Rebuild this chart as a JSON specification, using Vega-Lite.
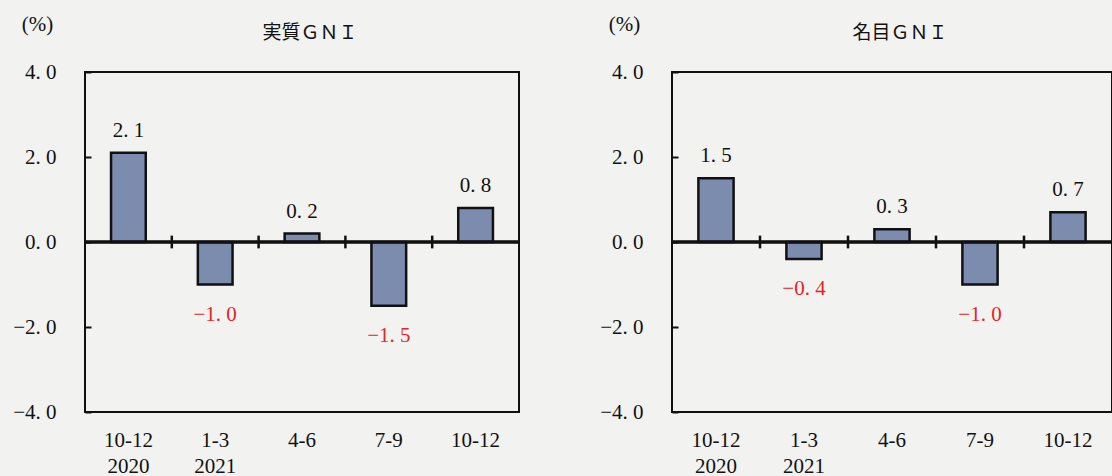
{
  "$schema": "https://vega.github.io/schema/vega-lite/v6.json",
  "background": "#f2f2f0",
  "padding": {"left": 11, "top": 12, "right": 0, "bottom": 0},
  "bounds": "flush",
  "spacing": 153,
  "config": {
    "view": {"stroke": "#111", "strokeWidth": 2},
    "font": "Liberation Serif",
    "title": {"font": "Noto Sans CJK JP", "fontSize": 19, "fontWeight": "normal", "color": "#111", "offset": -30, "dx": 8}
  },
  "datasets": {
    "real": [
      {"q": "2020Q4", "v": 2.1},
      {"q": "2021Q1", "v": -1.0},
      {"q": "2021Q2", "v": 0.2},
      {"q": "2021Q3", "v": -1.5},
      {"q": "2021Q4", "v": 0.8}
    ],
    "nominal": [
      {"q": "2020Q4", "v": 1.5},
      {"q": "2021Q1", "v": -0.4},
      {"q": "2021Q2", "v": 0.3},
      {"q": "2021Q3", "v": -1.0},
      {"q": "2021Q4", "v": 0.7}
    ]
  },
  "hconcat": [
    {
      "width": 434,
      "height": 340,
      "title": "実質ＧＮＩ",
      "data": {"name": "real"},
      "encoding": {
        "x": {
          "field": "q", "type": "nominal", "sort": null,
          "scale": {"paddingInner": 0, "paddingOuter": 0},
          "axis": {
            "title": null, "domain": false, "ticks": false, "labelAngle": 0,
            "labelFont": "Liberation Serif", "labelFontSize": 21, "labelColor": "#111",
            "labelPadding": 17, "labelLineHeight": 26, "labelBaseline": "top",
            "labelExpr": "datum.value == '2020Q4' ? ['10-12', '2020'] : datum.value == '2021Q1' ? ['1-3', '2021'] : datum.value == '2021Q2' ? '4-6' : datum.value == '2021Q3' ? '7-9' : '10-12'"
          }
        }
      },
      "layer": [
        {
          "mark": {"type": "bar", "fill": "#7b8cae", "stroke": "#111", "strokeWidth": 2.5, "width": {"band": 0.4}},
          "encoding": {
            "y": {
              "field": "v", "type": "quantitative",
              "scale": {"domain": [-4, 4], "nice": false, "zero": false},
              "axis": {
                "values": [-4, -2, 0, 2, 4], "grid": false, "domain": false,
                "tickSize": -6, "tickWidth": 2, "tickColor": "#111",
                "labelFont": "Liberation Serif", "labelFontSize": 21, "labelColor": "#111", "labelPadding": 35,
                "labelExpr": "replace(format(datum.value, '.1f'), '.', '. ')",
                "title": "(%)", "titleAngle": 0, "titleX": -48, "titleY": -48,
                "titleAlign": "center", "titleBaseline": "middle",
                "titleFont": "Liberation Serif", "titleFontSize": 21, "titleFontWeight": "normal", "titleColor": "#111"
              }
            }
          }
        },
        {
          "mark": {"type": "rule", "stroke": "#111", "strokeWidth": 2.5},
          "encoding": {"y": {"datum": 0}, "x": null}
        },
        {
          "transform": [{"filter": "datum.q != '2020Q4'"}],
          "mark": {"type": "rule", "stroke": "#111", "strokeWidth": 2.5},
          "encoding": {
            "x": {"field": "q", "type": "nominal", "sort": null, "bandPosition": 0},
            "y": {"datum": -0.15},
            "y2": {"datum": 0.15}
          }
        },
        {
          "transform": [{"filter": "datum.v >= 0"}],
          "mark": {"type": "text", "baseline": "bottom", "dy": -12, "fontSize": 21, "color": "#111",
                   "text": {"expr": "replace(format(datum.v, '.1f'), '.', '. ')"}},
          "encoding": {"y": {"field": "v", "type": "quantitative"}}
        },
        {
          "transform": [{"filter": "datum.v < 0"}],
          "mark": {"type": "text", "baseline": "top", "dy": 19, "fontSize": 21, "color": "#e8231e",
                   "text": {"expr": "replace(format(datum.v, '.1f'), '.', '. ')"}},
          "encoding": {"y": {"field": "v", "type": "quantitative"}}
        }
      ]
    },
    {
      "width": 440,
      "height": 340,
      "title": "名目ＧＮＩ",
      "data": {"name": "nominal"},
      "encoding": {
        "x": {
          "field": "q", "type": "nominal", "sort": null,
          "scale": {"paddingInner": 0, "paddingOuter": 0},
          "axis": {
            "title": null, "domain": false, "ticks": false, "labelAngle": 0,
            "labelFont": "Liberation Serif", "labelFontSize": 21, "labelColor": "#111",
            "labelPadding": 17, "labelLineHeight": 26, "labelBaseline": "top",
            "labelExpr": "datum.value == '2020Q4' ? ['10-12', '2020'] : datum.value == '2021Q1' ? ['1-3', '2021'] : datum.value == '2021Q2' ? '4-6' : datum.value == '2021Q3' ? '7-9' : '10-12'"
          }
        }
      },
      "layer": [
        {
          "mark": {"type": "bar", "fill": "#7b8cae", "stroke": "#111", "strokeWidth": 2.5, "width": {"band": 0.4}},
          "encoding": {
            "y": {
              "field": "v", "type": "quantitative",
              "scale": {"domain": [-4, 4], "nice": false, "zero": false},
              "axis": {
                "values": [-4, -2, 0, 2, 4], "grid": false, "domain": false,
                "tickSize": -6, "tickWidth": 2, "tickColor": "#111",
                "labelFont": "Liberation Serif", "labelFontSize": 21, "labelColor": "#111", "labelPadding": 35,
                "labelExpr": "replace(format(datum.value, '.1f'), '.', '. ')",
                "title": "(%)", "titleAngle": 0, "titleX": -48, "titleY": -48,
                "titleAlign": "center", "titleBaseline": "middle",
                "titleFont": "Liberation Serif", "titleFontSize": 21, "titleFontWeight": "normal", "titleColor": "#111"
              }
            }
          }
        },
        {
          "mark": {"type": "rule", "stroke": "#111", "strokeWidth": 2.5},
          "encoding": {"y": {"datum": 0}, "x": null}
        },
        {
          "transform": [{"filter": "datum.q != '2020Q4'"}],
          "mark": {"type": "rule", "stroke": "#111", "strokeWidth": 2.5},
          "encoding": {
            "x": {"field": "q", "type": "nominal", "sort": null, "bandPosition": 0},
            "y": {"datum": -0.15},
            "y2": {"datum": 0.15}
          }
        },
        {
          "transform": [{"filter": "datum.v >= 0"}],
          "mark": {"type": "text", "baseline": "bottom", "dy": -12, "fontSize": 21, "color": "#111",
                   "text": {"expr": "replace(format(datum.v, '.1f'), '.', '. ')"}},
          "encoding": {"y": {"field": "v", "type": "quantitative"}}
        },
        {
          "transform": [{"filter": "datum.v < 0"}],
          "mark": {"type": "text", "baseline": "top", "dy": 19, "fontSize": 21, "color": "#e8231e",
                   "text": {"expr": "replace(format(datum.v, '.1f'), '.', '. ')"}},
          "encoding": {"y": {"field": "v", "type": "quantitative"}}
        }
      ]
    }
  ]
}
